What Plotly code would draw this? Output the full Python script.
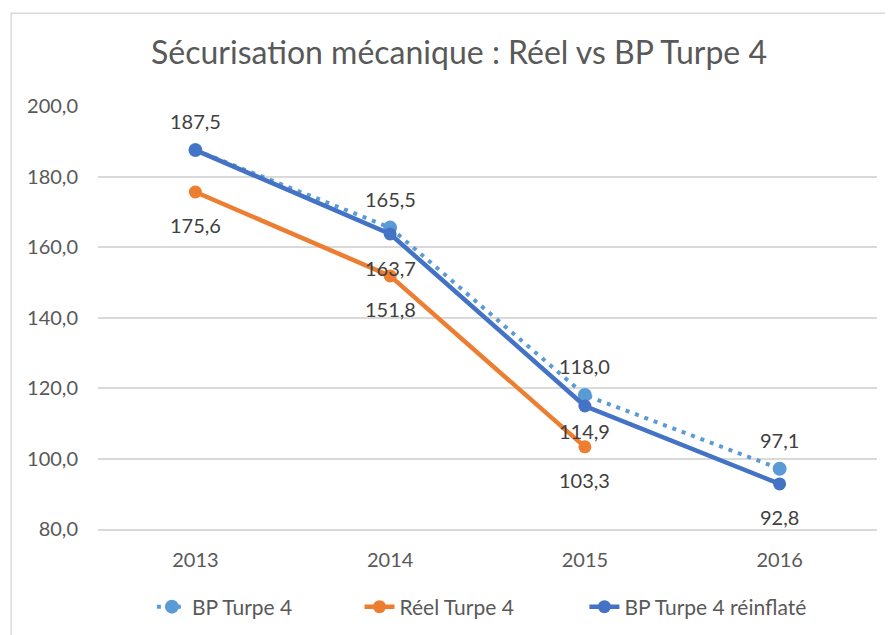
import plotly.graph_objects as go

years = ["2013", "2014", "2015", "2016"]
bp_turpe4 = [187.5, 165.5, 118.0, 97.1]
reel_turpe4 = [175.6, 151.8, 103.3, None]
bp_reinflate = [187.5, 163.7, 114.9, 92.8]
y_ticks = [80, 100, 120, 140, 160, 180, 200]
y_tick_labels = ["80,0", "100,0", "120,0", "140,0", "160,0", "180,0", "200,0"]

FONT = "Lato"
C_BP = "#5B9BD5"
C_REEL = "#ED7D31"
C_REINF = "#4472C4"

fig = go.Figure()
fig.add_trace(go.Scatter(x=years, y=bp_turpe4, name="BP Turpe 4", mode="lines+markers",
                         line=dict(color=C_BP, width=4, dash="4px,6px"),
                         marker=dict(color=C_BP, size=14), legend="legend"))
fig.add_trace(go.Scatter(x=years, y=reel_turpe4, name="Réel Turpe 4", mode="lines+markers",
                         line=dict(color=C_REEL, width=4.5),
                         marker=dict(color=C_REEL, size=13), legend="legend2"))
fig.add_trace(go.Scatter(x=years, y=bp_reinflate, name="BP Turpe 4 réinflaté", mode="lines+markers",
                         line=dict(color=C_REINF, width=4.5),
                         marker=dict(color=C_REINF, size=13), legend="legend3"))

def fmt(v):
    return f"{v:.1f}".replace(".", ",")

label_font = dict(family=FONT, size=20, color="#404040")
# BP Turpe 4 labels above
for i, v in enumerate(bp_turpe4):
    fig.add_annotation(x=i, y=v, text=fmt(v), showarrow=False, yshift=29, font=label_font)
# Réel labels below
for i, v in enumerate(reel_turpe4):
    if v is not None:
        fig.add_annotation(x=i, y=v, text=fmt(v), showarrow=False, yshift=-33, font=label_font)
# Réinflaté labels below (2013 coincides with BP, not labelled)
shifts_reinf = [None, -34, -25, -33]
for i, (v, s) in enumerate(zip(bp_reinflate, shifts_reinf)):
    if s is not None:
        fig.add_annotation(x=i, y=v, text=fmt(v), showarrow=False, yshift=s, font=label_font)

# outer chart border
fig.add_shape(type="rect", xref="paper", yref="paper", x0=-0.1115, x1=1.2, y0=-0.5, y1=1.219,
              line=dict(color="#D9D9D9", width=1.5), fillcolor="rgba(0,0,0,0)", layer="below")

legend_y = -(599 - 521) / 423
leg_common = dict(orientation="h", xanchor="left", y=legend_y, yanchor="middle",
                  font=dict(family=FONT, size=21, color="#595959"), bgcolor="rgba(0,0,0,0)")

# page body has an 8px margin: shift figure up/left by 8px
fig.update_layout(
    width=885, height=627,
    margin=dict(l=90, r=16, t=98, b=106, autoexpand=False),
    paper_bgcolor="white", plot_bgcolor="white",
    title=dict(text="Sécurisation mécanique : Réel vs BP Turpe 4", x=(459 - 8) / 885, xanchor="center",
               y=1 - 45 / 627, yanchor="middle",
               font=dict(family=FONT, size=32, color="#595959")),
    font=dict(family=FONT, color="#595959"),
    showlegend=True,
    legend=dict(x=0.0692, **leg_common),
    legend2=dict(x=0.3357, **leg_common),
    legend3=dict(x=0.6244, **leg_common),
    xaxis=dict(type="category", range=[-0.5, 3.5], showgrid=False, zeroline=False,
               showline=True, linecolor="#D9D9D9", linewidth=1.5,
               ticks="outside", ticklen=12, tickcolor="rgba(0,0,0,0)",
               tickfont=dict(family=FONT, size=20, color="#595959")),
    yaxis=dict(range=[80, 200], tickvals=y_ticks, ticktext=y_tick_labels,
               showgrid=True, gridcolor="#D9D9D9", gridwidth=1.5, zeroline=False, showline=False,
               ticks="outside", ticklen=15, tickcolor="rgba(0,0,0,0)",
               tickfont=dict(family=FONT, size=20, color="#595959")),
)

fig.write_html("out.html")
